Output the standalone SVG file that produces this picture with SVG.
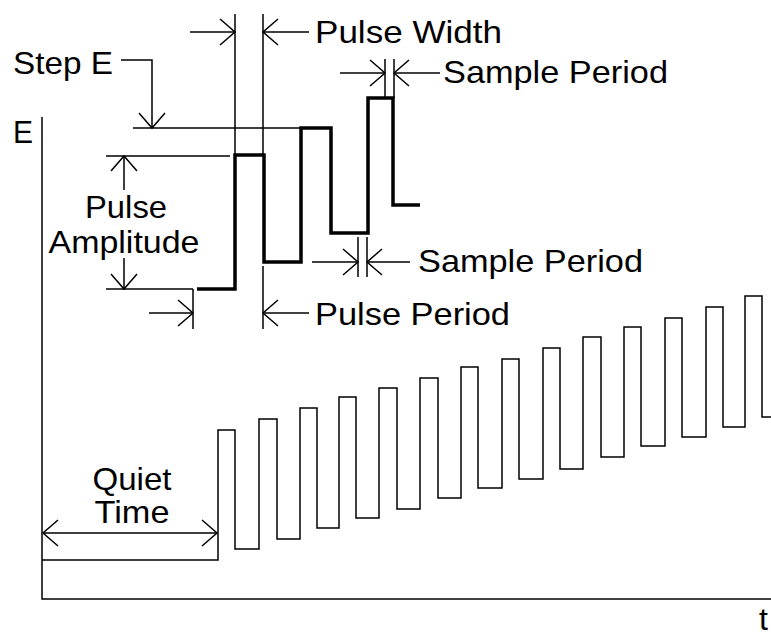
<svg xmlns="http://www.w3.org/2000/svg" width="771" height="637" viewBox="0 0 771 637">
<style>
.t{font-family:"Liberation Sans",Arial,sans-serif;font-size:32px;fill:#000}
.m{text-anchor:middle}
.ln{fill:none;stroke:#000;stroke-width:1.5}
.bold{fill:none;stroke:#000;stroke-width:3.5;stroke-linejoin:miter}
.ar{marker-end:url(#ah)}
</style>
<defs>
<marker id="ah" markerUnits="userSpaceOnUse" markerWidth="40" markerHeight="40" refX="0" refY="0" orient="auto-start-reverse" overflow="visible">
<path d="M-15,-13 L0,0 L-15,13" fill="none" stroke="#000" stroke-width="1.5"/>
</marker>
</defs>
<rect width="771" height="637" fill="#fff"/>
<g id="axes">
<path class="ln" d="M42,117 V599 H771"/>
<text class="t" x="13" y="143" textLength="20" lengthAdjust="spacingAndGlyphs">E</text>
<text class="t" x="759" y="630" font-size="28">t</text>
</g>
<g id="waveform">
<path class="ln" d="M42,560 H218 V430 H235 V549 H259 V419 H277 V539 H300 V408 H317 V528 H339 V397 H356 V518 H379 V388 H397 V509 H420 V378 H438 V498 H461 V367 H478 V488 H502 V359 H519 V479 H543 V348 H560 V469 H583 V337 H601 V457 H624 V327 H641 V446 H665 V318 H682 V437 H706 V307 H723 V427 H745 V296 H762 V417 H771"/>
</g>
<g id="detail-waveform">
<path class="bold" d="M197,289 H235 V155 H264 V262 H301 V128 H331 V233 H368 V98 H393 V205 H420"/>
</g>
<g id="connectors">
<path class="ln" d="M235,14 V155 M263,14 V155"/>
<path class="ln ar" d="M190,32 H235"/>
<path class="ln ar" d="M309,32 H263"/>
<path class="ln" d="M385,59 V98 M394,59 V98"/>
<path class="ln ar" d="M340,73 H385"/>
<path class="ln ar" d="M440,73 H394"/>
<path class="ln" d="M133,128 H301"/>
<path class="ln ar" d="M121,60 H152 V128"/>
<path class="ln" d="M106,156 H230 M106,289 H193"/>
<path class="ln ar" d="M124,190 V156"/>
<path class="ln ar" d="M124,258 V289"/>
<path class="ln" d="M193,289 V329 M263,266 V329"/>
<path class="ln ar" d="M149,313 H193"/>
<path class="ln ar" d="M309,313 H263"/>
<path class="ln" d="M358,237 V277 M367,237 V277"/>
<path class="ln ar" d="M312,262 H358"/>
<path class="ln ar" d="M410,262 H367"/>
<path class="ln" d="M43,533 H217" marker-start="url(#ah)" marker-end="url(#ah)"/>
</g>
<g id="label-step-e"><text class="t" x="13" y="74" textLength="100" lengthAdjust="spacingAndGlyphs">Step E</text></g>
<g id="label-pulse-width"><text class="t" x="315" y="43" textLength="187" lengthAdjust="spacingAndGlyphs">Pulse Width</text></g>
<g id="label-sample-period-1"><text class="t" x="443" y="83" textLength="225" lengthAdjust="spacingAndGlyphs">Sample Period</text></g>
<g id="label-pulse-amplitude">
<text class="t m" x="126" y="218" textLength="82" lengthAdjust="spacingAndGlyphs">Pulse</text>
<text class="t m" x="124" y="253" textLength="151" lengthAdjust="spacingAndGlyphs">Amplitude</text>
</g>
<g id="label-sample-period-2"><text class="t" x="418" y="272" textLength="225" lengthAdjust="spacingAndGlyphs">Sample Period</text></g>
<g id="label-pulse-period"><text class="t" x="315" y="325" textLength="195" lengthAdjust="spacingAndGlyphs">Pulse Period</text></g>
<g id="label-quiet-time">
<text class="t m" x="132" y="490" textLength="79" lengthAdjust="spacingAndGlyphs">Quiet</text>
<text class="t m" x="132" y="523" textLength="75" lengthAdjust="spacingAndGlyphs">Time</text>
</g>
</svg>
